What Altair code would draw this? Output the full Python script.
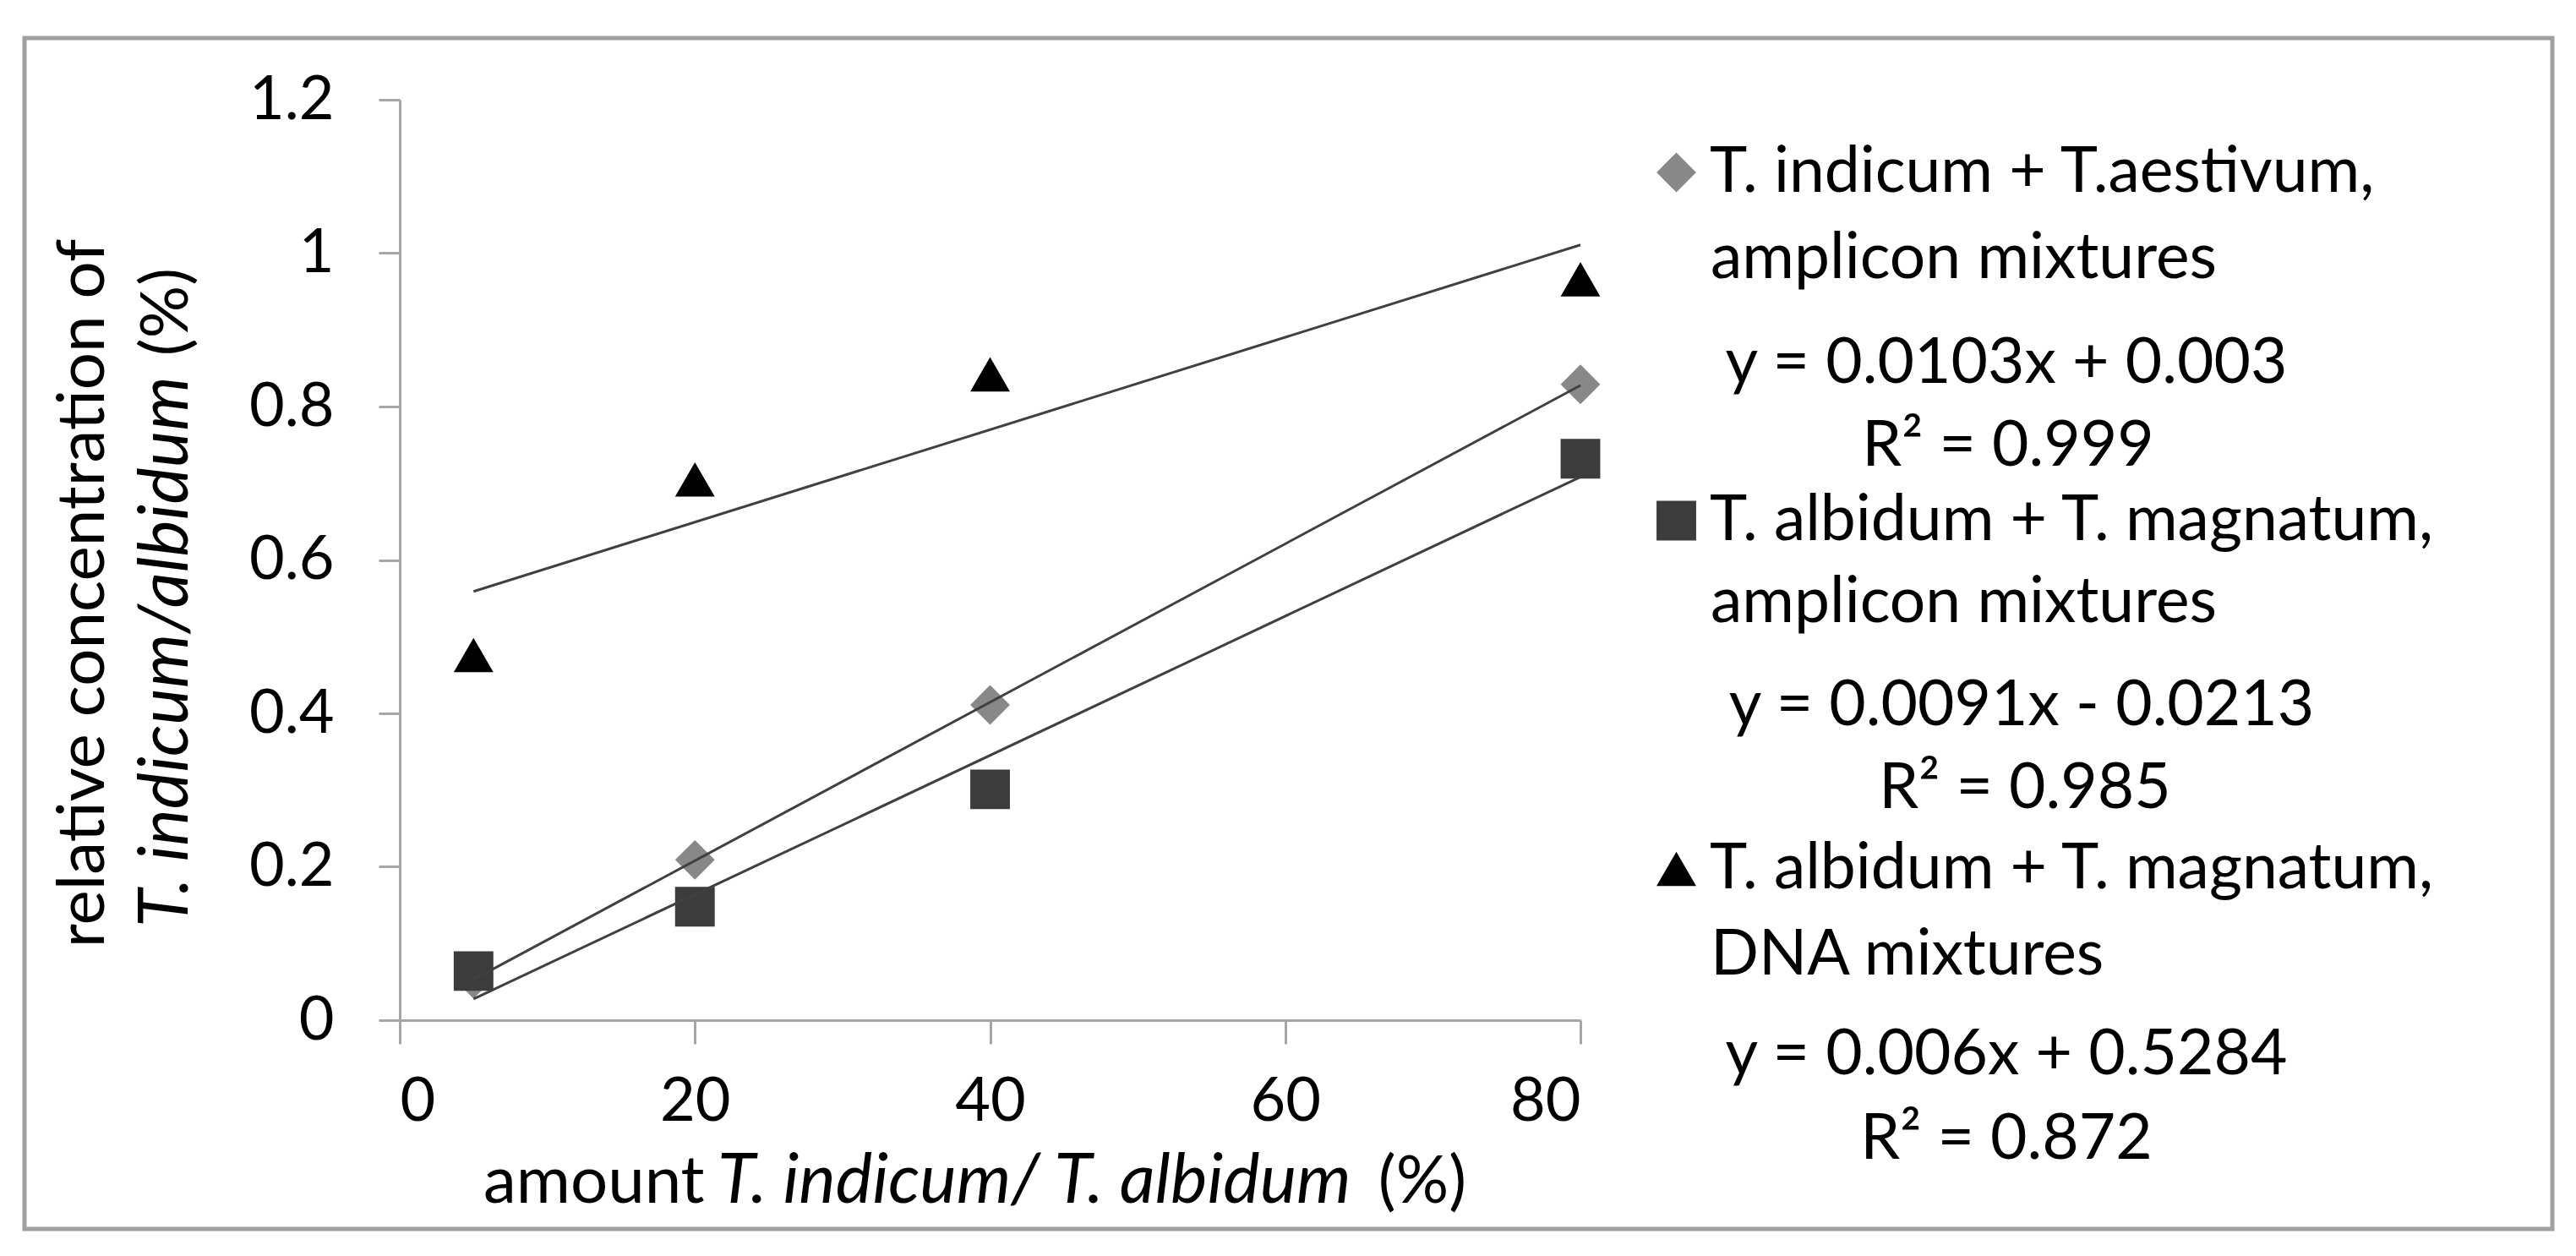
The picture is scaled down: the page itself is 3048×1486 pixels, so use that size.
import altair as alt
import pandas as pd

# ---- data ----
amount = [5, 20, 40, 80]
series_names = [
    "T. indicum + T.aestivum, amplicon mixtures",
    "T. albidum + T. magnatum, amplicon mixtures",
    "T. albidum + T. magnatum, DNA mixtures",
]
conc_indicum_amp = [0.054, 0.209, 0.411, 0.829]
conc_albidum_amp = [0.064, 0.148, 0.301, 0.732]
conc_albidum_dna = [0.476, 0.705, 0.842, 0.966]

second_lines = ["amplicon mixtures", "amplicon mixtures", "DNA mixtures"]
equations = ["y = 0.0103x + 0.003", "y = 0.0091x - 0.0213", "y = 0.006x + 0.5284"]
r_squared = ["R\u00b2 = 0.999", "R\u00b2 = 0.985", "R\u00b2 = 0.872"]

x_ticks = [0, 20, 40, 60, 80]
y_ticks = [0, 0.2, 0.4, 0.6, 0.8, 1.0, 1.2]

colors = ["#888888", "#3c3c3c", "#000000"]
shapes = ["diamond", "square", "triangle-up"]

rows = []
for name, vals in zip(series_names, [conc_indicum_amp, conc_albidum_amp, conc_albidum_dna]):
    for a, c in zip(amount, vals):
        rows.append({"series": name, "amount": a, "conc": c})
df = pd.DataFrame(rows)
one = pd.DataFrame({"k": [0]})

FONT = "Lato"
W, H = 1397, 1089
TITLE_SIZE = 78
LEG_SIZE = 75

legend = alt.Legend(
    orient="none", legendX=1473, legendY=36, title=None, padding=0,
    clipHeight=100, rowPadding=312, symbolSize=2200, symbolStrokeWidth=0,
    labelFont=FONT, labelFontSize=LEG_SIZE, labelColor="black", labelOffset=2,
    labelLimit=0, labelExpr="split(datum.label, ', ')[0] + ','",
)

xenc = alt.X("amount:Q", scale=alt.Scale(domain=[0, 80], nice=False, zero=False),
             axis=alt.Axis(values=x_ticks, title=None, grid=False, tickSize=28,
                           labelPadding=33, labelFont=FONT, labelFontSize=72))
yenc = alt.Y("conc:Q", scale=alt.Scale(domain=[0, 1.2], nice=False),
             axis=alt.Axis(values=y_ticks, format=".1~f", title=None, grid=False,
                           tickSize=25, labelPadding=53, labelFont=FONT, labelFontSize=72))

points = alt.Chart(df).mark_point(filled=True, opacity=1, size=2200, strokeWidth=0).encode(
    x=xenc, y=yenc,
    color=alt.Color("series:N", scale=alt.Scale(domain=series_names, range=colors), legend=legend),
    shape=alt.Shape("series:N", scale=alt.Scale(domain=series_names, range=shapes), legend=legend),
)

trend = alt.Chart(df).transform_regression(
    "amount", "conc", groupby=["series"], extent=[5, 80]
).mark_line(color="#404040", strokeWidth=3).encode(
    x="amount:Q", y="conc:Q", detail="series:N"
)

frame = alt.Chart(one).mark_rect(fill="transparent", stroke="#a0a0a0", strokeWidth=5).encode(
    x=alt.value(-444), x2=alt.value(2547), y=alt.value(-73), y2=alt.value(1336)
)


def txt(s, x, y, align="left", italic=False, angle=0, size=LEG_SIZE, baseline="alphabetic"):
    return alt.Chart(one).mark_text(
        text=s, align=align, baseline=baseline, font=FONT, fontSize=size,
        fontStyle="italic" if italic else "normal", angle=angle, color="black",
    ).encode(x=alt.value(x), y=alt.value(y))


texts = []
# x axis title
texts.append(txt("amount", 99, 1305, size=TITLE_SIZE))
texts.append(txt("T. indicum/ T. albidum", 376, 1305, italic=True, size=82))
texts.append(txt("(%)", 1262, 1305, align="right", size=TITLE_SIZE))
# y axis title
texts.append(txt("relative concentration of", -350, 584, align="center", angle=270, size=TITLE_SIZE))
texts.append(txt("T. indicum/albidum", -251, 979, italic=True, angle=270, size=82))
texts.append(txt("(%)", -251, 199, align="right", angle=270, size=TITLE_SIZE))

# legend extra lines
second_y = [211, 618, 1035]
eq_y = [335, 740, 1153]
r2_y = [433, 838, 1253]
eq_x = [1901, 1919, 1901]
r2_x = [1903, 1923, 1901]
for i in range(3):
    texts.append(txt(second_lines[i], 1551, second_y[i]))
    texts.append(txt(equations[i], eq_x[i], eq_y[i], align="center"))
    texts.append(txt(r_squared[i], r2_x[i], r2_y[i], align="center"))

chart = alt.layer(frame, points, trend, *texts).properties(
    width=W, height=H,
    autosize=alt.AutoSizeParams(type="none"),
    padding={"left": 465, "top": 110, "right": 1160, "bottom": 260},
    background="white",
).configure_view(stroke=None).configure_axis(
    domainColor="#a6a6a6", domainWidth=3, tickColor="#a6a6a6", tickWidth=3,
    labelColor="black",
)

chart.save("out.html", embed_options={"renderer": "svg", "actions": False})
